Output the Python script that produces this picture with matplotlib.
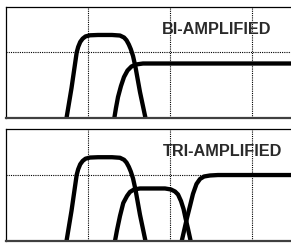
import matplotlib
matplotlib.use('Agg')
import matplotlib.pyplot as plt

# response curves, x in grid units (grid lines at 1, 2, 3), y as fraction of panel height
woofer_x = [0.738, 0.799, 0.862, 0.880, 0.905, 0.935, 0.970, 1.024, 1.122, 1.293, 1.390, 1.440, 1.470, 1.498, 1.522, 1.549, 1.579, 1.634, 1.701]
woofer_y = [0.0, 0.270, 0.590, 0.640, 0.685, 0.715, 0.735, 0.745, 0.748, 0.748, 0.743, 0.725, 0.700, 0.662, 0.620, 0.559, 0.459, 0.234, 0.0]

bi_high_x = [1.321, 1.341, 1.366, 1.402, 1.439, 1.482, 1.530, 1.585, 1.671, 3.476]
bi_high_y = [0.0, 0.090, 0.189, 0.288, 0.369, 0.428, 0.464, 0.482, 0.491, 0.491]

tri_mid_x = [1.329, 1.354, 1.390, 1.430, 1.476, 1.512, 1.561, 1.634, 1.939, 2.012, 2.061, 2.098, 2.134, 2.165, 2.189, 2.220, 2.252]
tri_mid_y = [0.0, 0.098, 0.223, 0.339, 0.402, 0.438, 0.460, 0.469, 0.469, 0.460, 0.442, 0.415, 0.357, 0.286, 0.205, 0.107, 0.0]

tri_high_x = [2.143, 2.171, 2.207, 2.244, 2.280, 2.323, 2.366, 2.415, 2.488, 2.585, 3.476]
tri_high_y = [0.0, 0.089, 0.205, 0.313, 0.420, 0.509, 0.554, 0.576, 0.585, 0.589, 0.589]

grid_x = [1, 2, 3]
grid_y = [0.593]
titles = ['BI-AMPLIFIED', 'TRI-AMPLIFIED']

W, H = 291, 244
fig = plt.figure(figsize=(W/100, H/100), dpi=100)

def panel(top, bottom):
    ax = fig.add_axes([6/W, 1 - bottom/H, 1 - 6/W, (bottom - top)/H])
    ax.set_xlim(0, 285/82)
    ax.set_ylim(0, 1)
    ax.set_xticks(grid_x)
    ax.set_yticks(grid_y)
    ax.tick_params(length=0, labelbottom=False, labelleft=False)
    ax.grid(True, color='black', linestyle=(0, (1, 1)), linewidth=0.8)
    ax.set_axisbelow(True)
    ax.spines['right'].set_visible(False)
    ax.spines['left'].set_linewidth(0.9)
    ax.spines['top'].set_linewidth(0.9)
    ax.spines['bottom'].set_linewidth(1.6)
    ax.spines['bottom'].set_color('#404040')
    return ax

def curve(ax, x, y):
    ax.plot(x, y, color='black', linewidth=3.1, solid_joinstyle='round', solid_capstyle='butt')

ax1 = panel(7, 118)
curve(ax1, woofer_x, woofer_y)
curve(ax1, bi_high_x, bi_high_y)
ax1.text((217 - 6)/82, (118-29)/111, titles[0], ha='center', va='center',
         fontsize=11.7, fontweight='bold', family='Liberation Sans', color='#2a2a2a')

ax2 = panel(129, 241)
curve(ax2, woofer_x, woofer_y)
curve(ax2, tri_mid_x, tri_mid_y)
curve(ax2, tri_high_x, tri_high_y)
ax2.text((223 - 6)/82, (241-152)/112, titles[1], ha='center', va='center',
         fontsize=11.7, fontweight='bold', family='Liberation Sans', color='#2a2a2a')

fig.savefig('out.png', dpi=100)
